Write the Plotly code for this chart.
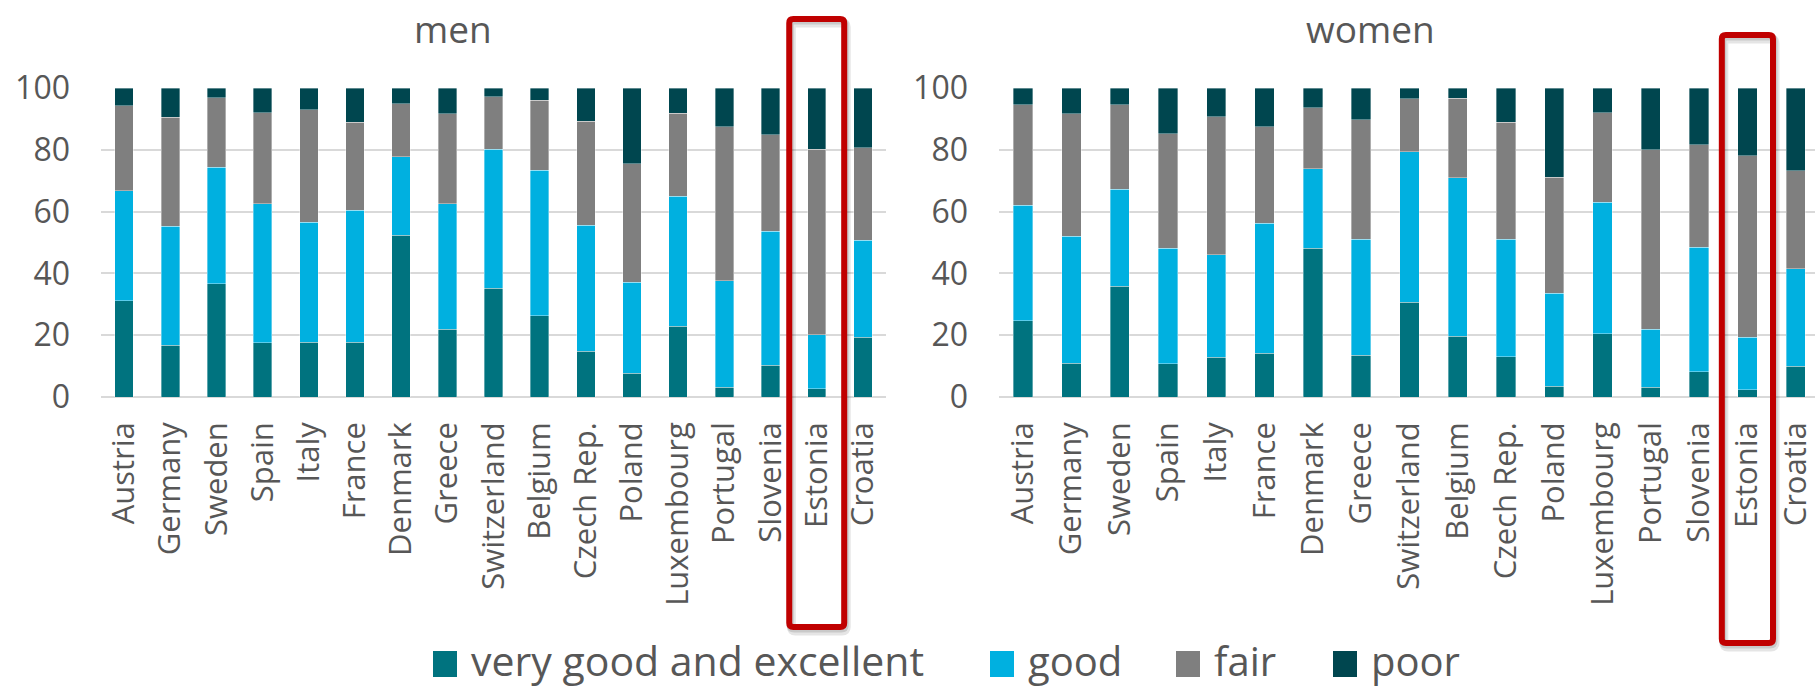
import plotly.graph_objects as go

# Self-rated health by country, percent of respondents
countries = ["Austria", "Germany", "Sweden", "Spain", "Italy", "France", "Denmark",
             "Greece", "Switzerland", "Belgium", "Czech Rep.", "Poland", "Luxembourg",
             "Portugal", "Slovenia", "Estonia", "Croatia"]

men_very_good = [31.2, 16.7, 36.7, 17.5, 17.8, 17.8, 52.4, 21.9, 35.2, 26.3, 14.8, 7.7, 22.9, 3.1, 10.2, 2.7, 19.3]
men_good = [35.5, 38.6, 37.7, 45.1, 38.7, 42.6, 25.3, 40.6, 45.0, 47.1, 40.8, 29.5, 42.0, 34.5, 43.5, 17.4, 31.5]
men_fair = [27.6, 35.3, 22.5, 29.4, 36.5, 28.5, 17.2, 29.1, 17.0, 22.6, 33.6, 38.3, 27.0, 49.9, 31.1, 60.1, 29.8]
men_poor = [5.7, 9.4, 3.1, 8.0, 7.0, 11.1, 5.1, 8.4, 2.8, 4.0, 10.8, 24.5, 8.1, 12.5, 15.2, 19.8, 19.4]

women_very_good = [24.6, 11.0, 35.9, 10.8, 12.8, 14.2, 48.2, 13.5, 30.7, 19.6, 13.1, 3.5, 20.4, 3.2, 8.2, 2.3, 10.0]
women_good = [37.4, 41.1, 31.3, 37.4, 33.3, 42.1, 25.6, 37.5, 48.6, 51.3, 38.0, 30.0, 42.7, 18.7, 40.3, 17.1, 31.5]
women_fair = [32.6, 39.6, 27.4, 37.0, 44.6, 31.1, 19.8, 38.8, 17.2, 25.8, 37.8, 37.6, 28.9, 58.1, 33.2, 58.6, 31.7]
women_poor = [5.4, 8.3, 5.4, 14.8, 9.3, 12.6, 6.4, 10.2, 3.5, 3.3, 11.1, 28.9, 8.0, 20.0, 18.3, 22.0, 26.8]

categories = ["very good and excellent", "good", "fair", "poor"]
colors = ["#00737F", "#00B0E0", "#7F7F7F", "#00464F"]
highlight = "Estonia"

W, H = 1815, 688
FONT = "Open Sans"
TEXT = "#575757"
GRID = "#D9D9D9"

# subplot geometry (pixels)
left_dom = [101 / W, 886 / W]
right_dom = [999 / W, 1.0]
left_range = [-0.5, 16.5]
right_range = [-0.5, 16.4]
y_dom = [1 - 397 / H, 1 - 88 / H]

fig = go.Figure()

panels = [
    ("x", "y", [men_very_good, men_good, men_fair, men_poor]),
    ("x2", "y2", [women_very_good, women_good, women_fair, women_poor]),
]
for xa, ya, series in panels:
    for name, vals, col in zip(categories, series, colors):
        fig.add_trace(go.Bar(
            x=countries, y=vals, name=name, xaxis=xa, yaxis=ya,
            marker=dict(color=col, line=dict(color="rgba(255,255,255,0.45)", width=0.8)),
            showlegend=False,
        ))

axis_x = dict(type="category", showgrid=False, zeroline=False, showline=False,
              ticks="", tickangle=-90, ticklabelstandoff=18, automargin=False,
              tickfont=dict(family=FONT, size=31, color=TEXT), fixedrange=True)
axis_y = dict(range=[0, 100], dtick=20, showgrid=True, gridcolor=GRID, gridwidth=2,
              zeroline=True, zerolinecolor=GRID, zerolinewidth=2, showline=False,
              ticks="", ticklabelstandoff=30, automargin=False,
              tickfont=dict(family=FONT, size=32, color=TEXT), fixedrange=True)

fig.update_layout(
    width=W, height=H,
    margin=dict(l=0, r=0, t=0, b=0, pad=0, autoexpand=False),
    paper_bgcolor="white", plot_bgcolor="white",
    barmode="stack", bargap=0.6,
    xaxis=dict(axis_x, domain=left_dom, range=left_range, anchor="y"),
    yaxis=dict(axis_y, domain=y_dom, anchor="x"),
    xaxis2=dict(axis_x, domain=right_dom, range=right_range, anchor="y2"),
    yaxis2=dict(axis_y, domain=y_dom, anchor="x2"),
    showlegend=False,
)


def px_x(dom, rng, idx):
    """Category index -> pixel x, using the axis domain and range."""
    return (dom[0] + (idx - rng[0]) / (rng[1] - rng[0]) * (dom[1] - dom[0])) * W


def rounded_path(x0, y0, x1, y1, r, dx=0, dy=0):
    """Rounded rectangle in paper coordinates from pixel corners."""
    x0, x1, y0, y1 = x0 + dx, x1 + dx, y0 + dy, y1 + dy
    def p(x, y):
        return f"{x / W:.5f},{1 - y / H:.5f}"
    return (f"M{p(x0 + r, y0)} L{p(x1 - r, y0)} Q{p(x1, y0)} {p(x1, y0 + r)} "
            f"L{p(x1, y1 - r)} Q{p(x1, y1)} {p(x1 - r, y1)} "
            f"L{p(x0 + r, y1)} Q{p(x0, y1)} {p(x0, y1 - r)} "
            f"L{p(x0, y0 + r)} Q{p(x0, y0)} {p(x0 + r, y0)} Z")


# highlight frames around the selected country in both panels
hi = countries.index(highlight)
frames = [
    (left_dom, left_range, 0.595, 19, 627),
    (right_dom, right_range, 0.53, 35, 643),
]
for dom, rng, half, top, bottom in frames:
    xa = px_x(dom, rng, hi - half)
    xb = px_x(dom, rng, hi + half)
    for dx, dy, col, w in [(2, 4, "rgba(0,0,0,0.10)", 9), (1, 2, "rgba(0,0,0,0.12)", 7)]:
        fig.add_shape(type="path", xref="paper", yref="paper",
                      path=rounded_path(xa, top, xb, bottom, 4, dx, dy),
                      line=dict(color=col, width=w), layer="above")
    fig.add_shape(type="path", xref="paper", yref="paper",
                  path=rounded_path(xa, top, xb, bottom, 4),
                  line=dict(color="#C00000", width=6), layer="above")

# panel titles
for label, xc in [("men", 453), ("women", 1370)]:
    fig.add_annotation(text=label, x=xc / W, y=1 - 1 / H, xref="paper", yref="paper",
                       xanchor="center", yanchor="top", showarrow=False,
                       font=dict(family=FONT, size=37, color=TEXT))

# legend row
legend_x = [433, 990, 1176, 1333]
for name, col, lx in zip(categories, colors, legend_x):
    fig.add_shape(type="rect", xref="paper", yref="paper",
                  x0=lx / W, x1=(lx + 24) / W, y0=1 - 677 / H, y1=1 - 651 / H,
                  line=dict(width=0), fillcolor=col)
    fig.add_annotation(text=name, x=(lx + 36) / W, y=1 - 660 / H, xref="paper", yref="paper",
                       xanchor="left", yanchor="middle", showarrow=False,
                       font=dict(family=FONT, size=41 if len(name) > 10 else 40, color=TEXT))

fig.write_html("out.html", config={"displayModeBar": False})
